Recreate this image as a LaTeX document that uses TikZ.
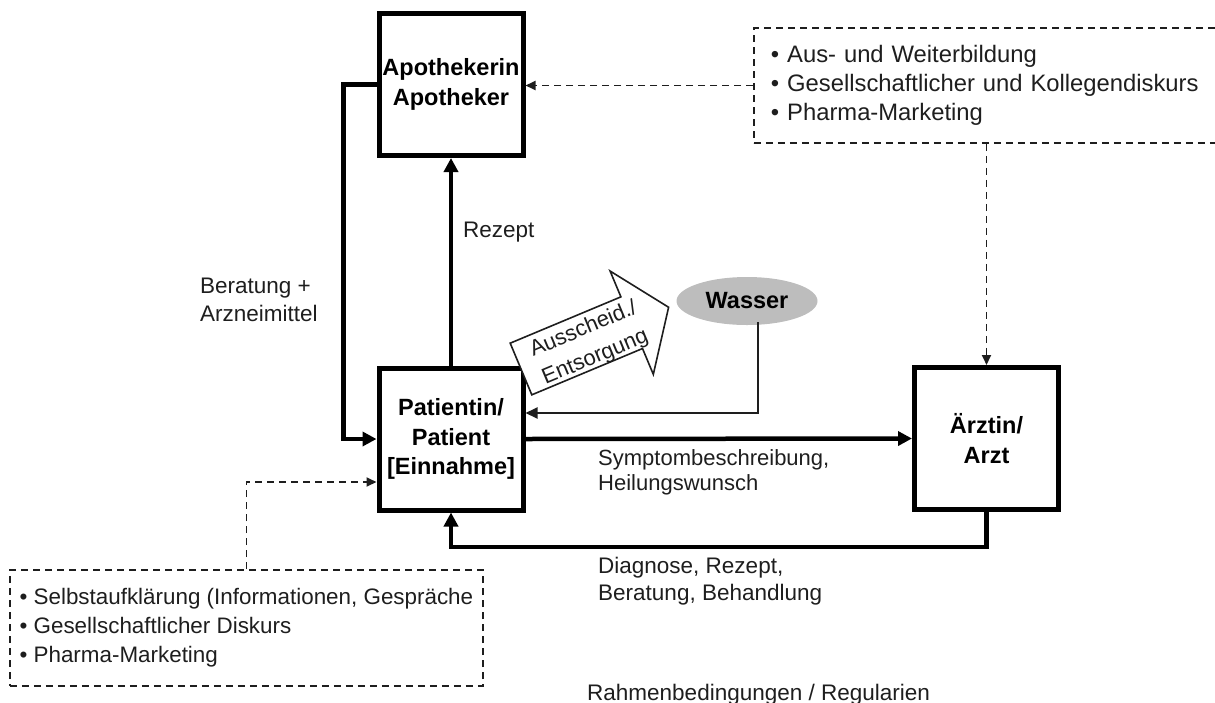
\documentclass[tikz,border=0pt]{standalone}
\usepackage{fontspec}
\setmainfont{Liberation Sans}
\usetikzlibrary{arrows.meta,shapes.geometric}
\definecolor{ink}{HTML}{1E1E1E}
\definecolor{waterfill}{HTML}{BDBDBD}
\begin{document}
\begin{tikzpicture}[x=1pt,y=-1pt,
  actor/.style={draw=black, line width=5pt, fill=white, minimum width=144pt,
    minimum height=142pt, inner sep=0pt, align=center,
    font=\fontsize{23.5}{29.5}\selectfont\bfseries},
  flow/.style={draw=black, line width=4.5pt, -{Triangle[length=14pt,width=14pt]}},
  thinflow/.style={draw=ink, line width=2pt, -{Triangle[length=12pt,width=11pt]}},
  dline/.style={draw=ink, line width=1.8pt, dash pattern=on 7pt off 5pt},
  dflow/.style={dline, -{Triangle[length=10pt,width=9pt]}},
  infobox/.style={dline, inner ysep=0pt, align=left, text=ink},
  lbl/.style={inner sep=0pt, align=left, text=ink, font=\fontsize{22.5}{28}\selectfont},
]
\useasboundingbox (0,0) rectangle (1215,702);
\clip (0,0) rectangle (1215,702);

% the three actors
\node[actor] (apo) at (451,84.5) {Apothekerin\\Apotheker};
\node[actor] (pat) at (451,439) {Patientin/\\Patient\\{[Einnahme]}};
\node[actor] (arzt) at (986.5,438.5) {Ärztin/\\Arzt};

% water
\node[ellipse, fill=waterfill, minimum width=141pt, minimum height=48pt,
  inner sep=0pt, font=\fontsize{23.5}{28}\selectfont\bfseries] (wasser) at (747,301) {Wasser};
\coordinate (wdrop) at (758,322);

% influence boxes
\node[infobox, anchor=west, text width=445pt, inner xsep=17pt,
  minimum height=115pt, font=\fontsize{23.8}{29}\selectfont] (topinfo) at (753,85.5)
  {• Aus- und Weiterbildung\\• Gesellschaftlicher und Kollegendiskurs\\• Pharma-Marketing};
\node[infobox, anchor=west, inner xsep=0pt, minimum width=473pt,
  minimum height=116pt, font=\fontsize{22.4}{29}\selectfont] (selbst) at (9,628)
  {• Selbstaufklärung (Informationen, Gespräche\\• Gesellschaftlicher Diskurs\\• Pharma-Marketing};

% flows between the actors
\draw[flow] (pat.north) -- (apo.south);
\draw[flow] (apo.west) -- ++(-33,0) |- (pat.west);
\draw[flow] (pat.east) -- (arzt.west);
\draw[flow] (arzt.south) -- ++(0,35) -| (pat.south);
\draw[thinflow] (wdrop) |- ([yshift=26pt]pat.east);

% external influences
\draw[dflow] (topinfo.west) -- (apo.east |- topinfo.west);
\draw[dflow] (arzt.north |- topinfo.south) -- (arzt.north);
\draw[dflow] (selbst.north) |- ([yshift=-43pt]pat.west);

% excretion / disposal block arrow
\begin{scope}[shift={(521,369)}, rotate=22.7]
  \draw[draw=ink, line width=1.6pt, fill=white, line join=miter]
    (0,-28) -- (120,-28) -- (120,-56) -- (160,0) -- (120,56) -- (120,28) -- (0,28) -- cycle;
  \node[lbl, align=center, rotate=22.7, font=\fontsize{22}{30.5}\selectfont] (ausscheid) at (73,3) {Ausscheid./\\Entsorgung};
\end{scope}

% labels
\node[lbl, anchor=west] (rezlbl) at (463,232) {Rezept};
\node[lbl, anchor=west] (berlbl) at (200,300) {Beratung +\\Arzneimittel};
\node[lbl, anchor=west, font=\fontsize{22}{25}\selectfont] (symlbl) at (598,472) {Symptombeschreibung,\\Heilungswunsch};
\node[lbl, anchor=west, font=\fontsize{22.5}{27}\selectfont] (diaglbl) at (598,581) {Diagnose, Rezept,\\Beratung, Behandlung};
\node[lbl, anchor=base west] (rahmen) at (587,700) {Rahmenbedingungen / Regularien};
\end{tikzpicture}
\end{document}
